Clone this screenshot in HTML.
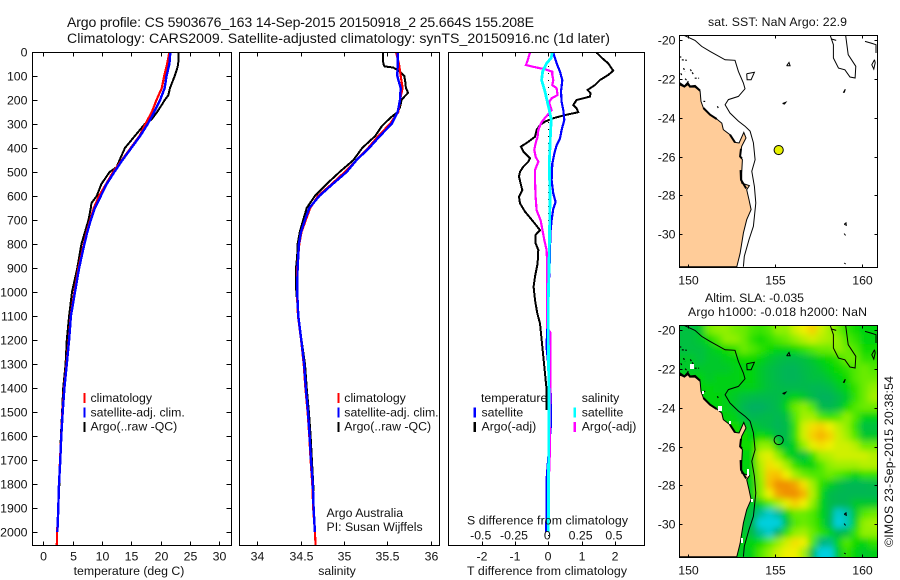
<!DOCTYPE html>
<html lang="en">
<head>
<meta charset="utf-8">
<title>Argo profile</title>
<style>
html,body{margin:0;padding:0;background:#fff;width:900px;height:580px;overflow:hidden}
svg{display:block;font-family:"Liberation Sans",sans-serif;fill:#000}
text{font-size:12.3px;fill:#111}
.t{font-size:14.1px}
.m{text-anchor:middle}
.e{text-anchor:end}
.frame{fill:none;stroke:#000;stroke-width:1;shape-rendering:crispEdges}
.tick{stroke:#000;stroke-width:1;shape-rendering:crispEdges}
.ser{fill:none;stroke-linejoin:miter;shape-rendering:crispEdges}
.iso{fill:none;stroke:#000;stroke-width:1}
</style>
</head>
<body>
<svg id="chart" width="900" height="580" viewBox="0 0 900 580" xmlns="http://www.w3.org/2000/svg">
<defs>
<filter id="smooth" filterUnits="userSpaceOnUse" x="660" y="300" width="240" height="280"><feGaussianBlur stdDeviation="3.2"/></filter>
<clipPath id="map2clip"><rect x="679.5" y="325.5" width="198" height="232"/></clipPath>
<clipPath id="map1clip"><rect x="679.5" y="35.5" width="198" height="232"/></clipPath>
</defs>
<rect width="900" height="580" fill="#fff"/>
<text class="t" x="67" y="27" textLength="467" lengthAdjust="spacing">Argo profile: CS 5903676_163 14-Sep-2015 20150918_2 25.664S 155.208E</text>
<text class="t" x="67" y="43" textLength="543" lengthAdjust="spacing">Climatology: CARS2009. Satellite-adjusted climatology: synTS_20150916.nc (1d later)</text>
<g id="marks"></g>
<text class="m" x="129" y="575">temperature (deg C)</text>
<text class="m" x="337" y="575">salinity</text>
<text class="m" x="547" y="575" textLength="160" lengthAdjust="spacing">T difference from climatology</text>
<text class="m" x="547.5" y="524.5" textLength="161" lengthAdjust="spacing">S difference from climatology</text>
<text x="326.5" y="517">Argo Australia</text>
<text x="326.5" y="531">PI: Susan Wijffels</text>
<text class="m" x="777.5" y="26" textLength="139" lengthAdjust="spacing">sat. SST: NaN Argo: 22.9</text>
<text class="m" x="754.5" y="302" textLength="99" lengthAdjust="spacing">Altim. SLA: -0.035</text>
<text class="m" x="777.5" y="316" textLength="179" lengthAdjust="spacing">Argo h1000: -0.018 h2000: NaN</text>
<text transform="translate(893,547) rotate(-90)" textLength="171" lengthAdjust="spacing">©IMOS 23-Sep-2015 20:38:54</text>
</svg>
<script>
/* ---------- profile data ---------- */
var depthLevels = [0,50,100,150,200,250,300,350,400,450,500,550,600,650,700,750,800,900,1000,1100,1200,1300,1400,1500,1600,1700,1800,1900,2000,2055];
var tempClimatology = [21.5,21.1,20.6,20.2,19.3,18.5,17.4,16.4,14.9,13.4,11.9,10.7,9.5,8.6,8.0,7.4,6.9,6.0,5.3,4.65,4.35,3.95,3.55,3.25,3.05,2.85,2.7,2.55,2.35,2.3];
var tempSatellite = [21.65,21.5,21.0,20.7,19.9,18.9,17.8,16.5,15.0,13.5,12.1,10.8,9.8,8.8,8.1,7.5,7.0,6.1,5.4,4.7,4.4,4.0,3.6,3.3,3.07,2.9,2.67,2.56,2.4];
var tempArgoDepth = [0,50,70,100,150,180,200,220,250,280,300,350,400,450,480,500,550,600,630,650,700,800,900,1000,1100,1200,1300,1400,1500,1600,1700,1830];
var tempArgo = [23.07,23.0,22.8,22.4,21.6,21.3,20.7,20.2,19.4,18.5,17.3,15.6,13.9,13.0,12.5,11.3,9.9,9.1,8.2,8.1,7.7,6.5,5.8,4.9,4.4,4.0,3.8,3.4,3.2,3.0,2.85,2.7];

var salClimatology = [35.6,35.635,35.654,35.677,35.646,35.627,35.53,35.396,35.28,35.146,35.01,34.86,34.7,34.61,34.56,34.51,34.485,34.46,34.457,34.47,34.505,34.535,34.555,34.58,34.6,34.615,34.635,34.645,34.665,34.673];
var salSatellite = [35.62,35.62,35.615,35.654,35.646,35.62,35.55,35.415,35.29,35.146,35.03,34.87,34.715,34.6,34.55,34.504,34.48,34.465,34.46,34.473,34.508,34.54,34.56,34.585,34.604,34.62,34.64,34.65,34.665];
var salArgoDepth = [0,50,60,65,75,85,100,130,150,170,185,200,230,250,270,290,310,350,400,450,500,550,600,650,700,750,800,850,900,950,1000,1100,1200,1300,1400,1500,1600,1700,1830];
var salArgo = [35.45,35.454,35.47,35.57,35.615,35.654,35.696,35.71,35.715,35.74,35.70,35.665,35.646,35.62,35.55,35.49,35.435,35.36,35.21,35.11,34.95,34.8,34.665,34.57,34.53,34.49,34.465,34.46,34.446,34.446,34.45,34.475,34.51,34.55,34.57,34.595,34.615,34.63,34.65];

var diffArgoTempDepth = [3,26,47,78,96,117,138,158,172,186,200,221,235,251,263,276,290,304,325,353,374,394,415,443,457,478,499,519,554,575,603,631,665,707,742,762,797,825,881,936,978,1033,1089,1131,1214,1311,1394,1492];
var diffArgoTemp = [1.45,1.62,1.80,1.95,1.80,1.55,1.40,1.18,1.27,1.25,0.85,0.75,0.85,0.90,0.50,0.15,-0.10,-0.25,-0.35,-0.40,-0.60,-0.82,-0.75,-0.55,-0.60,-0.75,-0.85,-0.88,-0.82,-0.78,-0.88,-0.85,-0.70,-0.45,-0.25,-0.38,-0.38,-0.30,-0.32,-0.40,-0.44,-0.40,-0.33,-0.25,-0.19,-0.12,-0.06,-0.05];
var diffSatTempDepth = [3,26,47,82,117,165,207,242,283,325,360,388,424,465,535,590,625,653,701,757,840,924,1172,1230,1390,1450,1550,1650,1780,2000];
var diffSatTemp = [0.15,0.20,0.25,0.35,0.42,0.38,0.40,0.45,0.48,0.40,0.35,0.25,0.18,0.12,0.10,0.15,0.22,0.15,0.10,0.06,0.05,0.03,-0.04,-0.05,0.06,0.08,0.08,0.02,-0.05,-0.06];
var diffSatSalDepth = [3,26,47,82,117,165,207,242,283,325,394,465,603,742,895,1033,1200,1450,2000];
var diffSatSal = [0.12,0.08,-0.05,-0.17,-0.20,-0.10,-0.03,0.03,0.09,0.07,0.05,0.03,0.05,0.04,0.02,0.0,0.0,0.02,0.0];
var diffArgoSalDepth = [3,26,54,61,72,82,96,117,138,151,179,193,210,242,267,283,297,325,353,381,408,436,457,492,533,603,659,701,783,825,895,1033,1150,1170,1380,1500,1650,1850];
var diffArgoSal = [-0.55,-0.60,-0.67,-0.48,-0.10,0.12,0.12,0.15,0.12,0.25,0.28,0.10,0.02,0.10,-0.05,-0.15,-0.22,-0.30,-0.32,-0.38,-0.42,-0.38,-0.30,-0.40,-0.40,-0.38,-0.35,-0.23,-0.12,-0.05,-0.03,-0.03,-0.03,0.07,0.07,0.05,0.05,0.0];

/* ---------- tick labels ---------- */
var depthTicks = [0,100,200,300,400,500,600,700,800,900,1000,1100,1200,1300,1400,1500,1600,1700,1800,1900,2000];
var tempTicks = [0,5,10,15,20,25,30];
var salTicks = [34,34.5,35,35.5,36];
var diffTempTicks = [-2,-1,0,1,2];
var diffSalTicks = [-0.5,-0.25,0,0.25,0.5];
var lonTicks = [150,155,160];
var latTicks = [-20,-22,-24,-26,-28,-30];

/* ---------- float position ---------- */
var argoLon = 155.208;
var argoLat = -25.664;

/* ---------- sea-level anomaly (cm), rows north to south, columns west to east ---------- */
var slaLon0 = 149.5;
var slaLat0 = -19.72;
var slaCellLon = 0.4925;
var slaCellLat = 0.499;
var slaGrid = [
[-10,-10,-8,6,8,8,6,5,2,1,3,8,8,15,20,24,15,10,5,0,-3,-5,-5],
[-10,-10,-8,-3,3,8,8,5,0,-3,0,3,5,8,12,15,12,10,8,3,0,-5,-5],
[-10,-10,-10,-8,-5,-3,0,5,3,0,-3,-5,-5,-3,0,3,5,5,8,5,3,-3,-3],
[-8,-8,-10,-8,-8,-6,-5,-3,-3,-5,-8,-10,-12,-12,-10,-8,-5,-3,0,5,5,0,0],
[-8,-8,-8,-8,-8,-8,-6,-5,-5,-8,-10,-13,-15,-15,-12,-10,-8,-5,-3,0,3,5,3],
[-5,-5,-5,-8,-6,-6,-6,-5,-5,-8,-10,-13,-15,-15,-13,-10,-10,-8,-5,-3,3,5,5],
[-5,-5,-5,-5,-6,-6,-6,-6,-6,-8,-10,-12,-13,-13,-13,-14,-14,-12,-8,-5,0,5,8],
[-5,-5,-5,-5,-5,-6,-8,-10,-12,-13,-13,-12,-8,-5,-8,-12,-16,-16,-12,-8,0,5,10],
[-5,-5,-5,-5,-5,-6,-8,-14,-17,-17,-15,-12,-5,5,8,3,-12,-14,-10,-3,3,5,5],
[-5,-5,-5,-5,-5,-5,-6,-10,-14,-13,-12,-14,-10,3,10,10,3,0,3,8,3,-5,-5],
[-5,-5,-5,-5,-5,-5,-3,-5,-8,-10,-12,-15,-12,0,15,22,24,20,13,8,0,-10,-10],
[-5,-5,-5,-5,-5,-5,-5,-3,-5,-3,-5,-12,-12,0,15,24,28,24,15,10,3,-8,-8],
[-5,-5,-5,-5,-5,-5,-5,-3,-3,8,8,-5,-10,-5,8,18,22,20,15,15,12,5,5],
[-5,-5,-5,-5,-5,-5,-5,-5,-5,15,18,8,-3,-8,-10,0,10,12,15,15,15,15,12],
[-5,-5,-5,-5,-5,-5,-5,-5,-5,12,22,18,10,0,-5,-5,3,8,10,10,10,12,12],
[-5,-5,-5,-5,-5,-5,-5,-5,-5,10,25,26,20,10,5,3,3,5,3,0,-5,0,0],
[-5,-5,-5,-5,-5,-5,-5,-5,-6,8,26,33,34,30,22,10,0,-6,-10,-14,-14,-14,-12],
[-5,-5,-5,-5,-5,-5,-5,-5,-6,8,20,30,35,36,28,12,-3,-12,-14,-14,-14,-14,-14],
[-5,-5,-5,-5,-5,-5,-5,-5,-8,-5,3,10,18,24,20,8,-5,-12,-14,-14,-8,-8,-8],
[-5,-5,-5,-5,-5,-5,-5,-8,-10,-24,-30,-24,-5,5,5,3,-5,-12,-30,-26,-8,3,5],
[-5,-5,-5,-5,-5,-5,-5,-8,-14,-36,-46,-36,-10,3,5,3,-3,-14,-36,-28,-6,8,10],
[-5,-5,-5,-5,-5,-5,-5,-8,-12,-24,-30,-16,0,8,10,5,0,-5,-14,-10,0,8,8],
[-5,-5,-5,-5,-5,-5,-5,-5,-5,-3,3,8,15,22,20,3,-20,-22,-5,3,-3,-5,0],
[-5,-5,-5,-5,-5,-5,-5,-8,-5,3,8,15,20,20,10,-12,-36,-38,-8,0,-5,-8,-6]
];

/* ---------- map geography (lon, lat) ---------- */
var landOutline = [[149.52,-22.29],[149.81,-22.41],[150,-22.29],[150.13,-22.41],[150.42,-22.41],[150.71,-22.63],[150.76,-23.15],[150.9,-23.49],[151.28,-23.84],[151.66,-24.06],[151.95,-24.27],[152.04,-24.61],[152.42,-24.87],[152.71,-25.27],[152.94,-25.3],[153.21,-24.75],[153.34,-25.04],[153.09,-25.47],[153,-25.99],[153.13,-26.16],[153.09,-26.85],[153.09,-27.37],[153.53,-27.5],[153.38,-27.71],[153.51,-28.23],[153.63,-28.74],[153.38,-29.26],[153.19,-29.95],[153,-31],[152.81,-31.69],[149.52,-31.69]];
var heavyCoast = [
[[149.52,-22.2],[149.81,-22.38],[150,-22.2],[150.13,-22.38],[150.42,-22.35],[150.71,-22.6]],
[[150.9,-23.49],[151.28,-23.84],[151.66,-24.06]],
[[152.42,-24.87],[152.71,-25.27]],
[[153.05,-25.6],[153,-25.99],[153.1,-26.1]],
[[153.03,-26.7],[153.05,-27.2],[153.35,-27.65]]
];
var isobathMain = [[149.75,-19.72],[150.42,-20],[150.8,-20.31],[151.28,-20.57],[152.14,-21],[152.71,-21.03],[152.9,-21.6],[153.19,-22.2],[153.28,-22.5],[152.9,-22.89],[152.33,-23.06],[152.14,-23.32],[152.42,-23.75],[152.9,-24.17],[153.28,-24.43],[153.57,-24.69],[153.76,-25.29],[153.86,-26.16],[153.67,-26.76],[153.82,-27.54],[153.9,-28.4],[153.76,-29.6],[153.51,-30.29],[153.24,-31.15],[153.19,-31.69]];
var isobathLoop = [[153.38,-21.72],[153.82,-21.65],[153.63,-22.03],[153.4,-22.03],[153.38,-21.72]];
var isobathMarionA = [[158.15,-19.72],[158.34,-20.22],[158.34,-20.91],[158.63,-21.43],[159,-21.52],[159.29,-21.89],[159.58,-21.94],[159.62,-21.34],[159.19,-20.74],[159.04,-19.72]];
var isobathEastA = [[160.15,-20.05],[160.5,-20.14],[160.78,-20.22],[160.78,-20.65]];
var isobathEastB = [[160.69,-21],[160.54,-21.26],[160.65,-21.48],[160.73,-21.15],[160.69,-21]];
var reefShapes = [
[[155.66,-21.31],[155.8,-21.14],[155.86,-21.31],[155.66,-21.31]],
[[155.43,-23.26],[155.62,-23.19],[155.54,-23.29],[155.43,-23.26]],
[[158.9,-22.7],[159.02,-22.52],[158.96,-22.7]],
[[158.96,-29.5],[159.06,-29.42],[159.08,-29.55],[158.96,-29.5]],
[[158.95,-29.98],[159.04,-30.07]],
[[158.95,-31.5],[159.05,-31.55]],
[[158.2,-19.92],[158.5,-20]]
];
var coastIslets = [
[[149.52,-20.86],[149.66,-20.86]],[[149.66,-21],[149.95,-21.03]],[[149.76,-21.43],[149.85,-21.6]],
[[150.15,-21.5],[150.34,-21.77]],[[149.85,-21.98],[150.04,-22.15]],[[150.4,-21.95],[150.65,-21.95]],
[[150.9,-23.15],[151,-23.15]],[[151.7,-23.4],[151.75,-23.5]],[[149.6,-21.7],[149.7,-21.85]]
];
var coastGaps = [[690,364,4,5],[718,406,4,5],[729,421,2,3],[702,391,2,3],[747,469,2,7],[751,499,2,3],[741,538,2,5]];

/* ---------- scales ---------- */
function depthY(d){return 52+0.24*d;}
function tempX(v){return 43.3+5.867*v;}
function salX(v){return 257.3+86.67*(v-34);}
function diffX(v){return 548.3+33.3*v;}
function diffSalX(v){return 548.3+133.2*v;}
function lonX(v){return 687.7+17.47*(v-150);}
function latY(v,top){return top+5.4+19.36*(-20-v);}
var slaStops = [[-32,0,208,224],[-25,0,192,160],[-17,0,176,96],[-10,0,192,64],[-4,0,216,0],[3,80,232,0],[8,144,240,0],[14,200,240,0],[20,240,240,0],[26,248,192,0],[33,240,144,0]];
function slaColor(v){
  if(v<=slaStops[0][0]){return 'rgb('+slaStops[0][1]+','+slaStops[0][2]+','+slaStops[0][3]+')';}
  for(var i=1;i<slaStops.length;i++){
    if(v<=slaStops[i][0]){
      var a=slaStops[i-1],b=slaStops[i],t=Math.max(0,(v-a[0])/(b[0]-a[0]));
      return 'rgb('+Math.round(a[1]+t*(b[1]-a[1]))+','+Math.round(a[2]+t*(b[2]-a[2]))+','+Math.round(a[3]+t*(b[3]-a[3]))+')';
    }
  }
  var l=slaStops[slaStops.length-1];
  return 'rgb('+l[1]+','+l[2]+','+l[3]+')';
}

var NS='http://www.w3.org/2000/svg';
var root=document.getElementById('marks');
function mk(tag,attrs,parent){
  var e=document.createElementNS(NS,tag);
  for(var k in attrs){e.setAttribute(k,attrs[k]);}
  (parent||root).appendChild(e);
  return e;
}
function series(depths,values,xs,color,width){
  var pts=[];
  for(var i=0;i<values.length;i++){pts.push(xs(values[i]).toFixed(1)+','+depthY(depths[i]).toFixed(1));}
  return mk('polyline',{points:pts.join(' '),'class':'ser',stroke:color,'stroke-width':width});
}
function geoPath(coords,top,close){
  var s='';
  for(var i=0;i<coords.length;i++){s+=(i?'L':'M')+lonX(coords[i][0]).toFixed(1)+' '+latY(coords[i][1],top).toFixed(1);}
  return s+(close?'Z':'');
}
function axisFrame(x,y,w,h){
  return mk('rect',{x:x,y:y,width:w,height:h,'class':'frame'});
}
function tick(x1,y1,x2,y2){
  return mk('line',{x1:x1,y1:y1,x2:x2,y2:y2,'class':'tick'});
}
function label(x,y,str,cls){
  var t=mk('text',{x:x,y:y});
  if(cls){t.setAttribute('class',cls);}
  t.textContent=str;
  return t;
}
function bar(x,y,color){
  return mk('rect',{x:x,y:y,width:2.4,height:10,fill:color,'shape-rendering':'crispEdges'});
}
var el,i;

/* ---------- temperature panel ---------- */
el=series(tempArgoDepth,tempArgo,tempX,'#000',2);


el=series(depthLevels,tempClimatology,tempX,'#ff0000',2.2);


el=series(depthLevels,tempSatellite,tempX,'#0000ff',2.4);


el=axisFrame(32.5,52.5,199,493);


for(i=0;i<depthTicks.length;i++){
  var dy=Math.round(depthY(depthTicks[i]))+0.5;
  el=tick(32.5,dy,37.5,dy);
  
  
  el=tick(226.5,dy,231.5,dy);
  
  
  el=label(27.5,dy+4,String(depthTicks[i]),'e');
  
  
}
for(i=0;i<tempTicks.length;i++){
  var tx=Math.round(tempX(tempTicks[i]))+0.5;
  el=tick(tx,52.5,tx,56.5);
  
  
  el=tick(tx,541.5,tx,545.5);
  
  
  el=label(tx,560.5,String(tempTicks[i]),'m');
  
  
}

/* ---------- salinity panel ---------- */
el=series(salArgoDepth,salArgo,salX,'#000',2);


el=series(depthLevels,salClimatology,salX,'#ff0000',2.2);


el=series(depthLevels,salSatellite,salX,'#0000ff',2.4);


el=axisFrame(239.5,52.5,200,493);


for(i=0;i<salTicks.length;i++){
  var sx=Math.round(salX(salTicks[i]))+0.5;
  el=tick(sx,52.5,sx,56.5);
  
  
  el=tick(sx,541.5,sx,545.5);
  
  
  el=label(sx,560.5,String(salTicks[i]),'m');
  
  
}

/* ---------- difference panel ---------- */
el=series(diffArgoTempDepth,diffArgoTemp,diffX,'#000',2);


el=mk('line',{x1:diffX(0),y1:depthY(0),x2:diffX(0),y2:depthY(2055),stroke:'#000','stroke-width':1,'stroke-dasharray':'1 6','shape-rendering':'crispEdges'});


el=series(diffSatTempDepth,diffSatTemp,diffX,'#0000ff',2.2);


el=series(diffArgoSalDepth,diffArgoSal,diffX,'#ff00ff',2.2);


el=series(diffSatSalDepth,diffSatSal,diffX,'#00ffff',2.8);


el=axisFrame(448.5,52.5,196,493);


for(i=0;i<diffTempTicks.length;i++){
  var ax=Math.round(diffX(diffTempTicks[i]))+0.5;
  el=tick(ax,52.5,ax,56.5);
  
  
  el=tick(ax,541.5,ax,545.5);
  
  
  el=label(ax-0.5,560.5,String(diffTempTicks[i]),'m');
  
  
}
for(i=0;i<diffSalTicks.length;i++){
  el=label(diffSalX(diffSalTicks[i])-1,539.5,String(diffSalTicks[i]),'m');
  
  
}

/* ---------- legends ---------- */
var legendRows=[402,416.5,430.5];
var legendBars=[393,407.5,422];
el=bar(83.3,legendBars[0],'#ff0000');


el=bar(83.3,legendBars[1],'#0000ff');


el=bar(83.3,legendBars[2],'#000');


el=label(90.5,legendRows[0],'climatology');


el=label(90.5,legendRows[1],'satellite-adj. clim.');


el=label(90.5,legendRows[2],'Argo(..raw -QC)');


el=bar(337.3,legendBars[0],'#ff0000');


el=bar(337.3,legendBars[1],'#0000ff');


el=bar(337.3,legendBars[2],'#000');


el=label(344.3,legendRows[0],'climatology');


el=label(344.3,legendRows[1],'satellite-adj. clim.');


el=label(344.3,legendRows[2],'Argo(..raw -QC)');


el=bar(473.5,legendBars[1],'#0000ff');


el=bar(473.5,legendBars[2],'#000');


el=bar(573.5,legendBars[1],'#00ffff');


el=bar(573.5,legendBars[2],'#ff00ff');


el=label(481,legendRows[0],'temperature');


el=label(481.5,legendRows[1],'satellite');


el=label(481.5,legendRows[2],'Argo(-adj)');


el=label(581.7,legendRows[0],'salinity');


el=label(581.7,legendRows[1],'satellite');


el=label(581.7,legendRows[2],'Argo(-adj)');



/* ---------- maps ---------- */
function drawGeography(top,clipId){
  var g=mk('g',{'clip-path':'url(#'+clipId+')'});
  var p=mk('path',{d:geoPath(landOutline,top,true),fill:'#ffcc99',stroke:'#000','stroke-width':1},g);
  
  
  var j;
  for(j=0;j<heavyCoast.length;j++){
    p=mk('path',{d:geoPath(heavyCoast[j],top,false),fill:'none',stroke:'#000','stroke-width':2},g);
    
    
  }
  for(j=0;j<coastIslets.length;j++){
    p=mk('path',{d:geoPath(coastIslets[j],top,false),fill:'none',stroke:'#000','stroke-width':1.2,'stroke-dasharray':'2 1.5'},g);
    
    
  }
  p=mk('path',{d:geoPath(isobathMain,top,false),'class':'iso'},g);
  
  
  p=mk('path',{d:geoPath(isobathLoop,top,false),'class':'iso'},g);
  
  
  p=mk('path',{d:geoPath(isobathMarionA,top,false),'class':'iso'},g);
  
  
  p=mk('path',{d:geoPath(isobathEastA,top,false),'class':'iso'},g);
  
  
  p=mk('path',{d:geoPath(isobathEastB,top,false),'class':'iso'},g);
  
  
  for(j=0;j<reefShapes.length;j++){
    p=mk('path',{d:geoPath(reefShapes[j],top,false),'class':'iso'},g);
    
    
  }
}
function drawMapAxes(top){
  var f=axisFrame(679.5,top+0.5,198,232);
  
  
  var j,t;
  for(j=0;j<lonTicks.length;j++){
    var lx=Math.round(lonX(lonTicks[j]))+0.5;
    t=tick(lx,top+0.5,lx,top+3.5);
    
    
    t=tick(lx,top+229.5,lx,top+232.5);
    
    
    t=label(lx,top+249.5,String(lonTicks[j]),'m');
    
    
  }
  for(j=0;j<latTicks.length;j++){
    var ly=Math.round(latY(latTicks[j],top))+0.5;
    t=tick(679.5,ly,682.5,ly);
    
    
    t=tick(874.5,ly,877.5,ly);
    
    
    t=label(675.5,ly+4,String(latTicks[j]),'e');
    
    
  }
}

/* SST map */
drawGeography(35,'map1clip');
drawMapAxes(35);
el=mk('circle',{cx:lonX(argoLon),cy:latY(argoLat,35),r:4.6,fill:'#e6f000',stroke:'#000','stroke-width':1});



/* SLA map */
var heatClip=mk('g',{'clip-path':'url(#map2clip)'});


var heat=mk('g',{filter:'url(#smooth)'},heatClip);
for(var r=0;r<slaGrid.length;r++){
  for(var c=0;c<slaGrid[r].length;c++){
    var x0=lonX(slaLon0+c*slaCellLon),x1=lonX(slaLon0+(c+1)*slaCellLon);
    var y0=latY(slaLat0-r*slaCellLat,325),y1=latY(slaLat0-(r+1)*slaCellLat,325);
    if(c===0){x0-=14;}
    if(c===slaGrid[r].length-1){x1+=14;}
    if(r===0){y0-=14;}
    if(r===slaGrid.length-1){y1+=14;}
    var cell=mk('rect',{x:x0.toFixed(1),y:y0.toFixed(1),width:(x1-x0+0.4).toFixed(1),height:(y1-y0+0.4).toFixed(1),fill:slaColor(slaGrid[r][c])},heat);
    
    
  }
}
drawGeography(325,'map2clip');
for(i=0;i<coastGaps.length;i++){
  el=mk('rect',{x:coastGaps[i][0],y:coastGaps[i][1],width:coastGaps[i][2],height:coastGaps[i][3],fill:'#fff'});
  
  
}
drawMapAxes(325);
el=mk('circle',{cx:lonX(argoLon),cy:latY(argoLat,325),r:4.6,fill:'none',stroke:'#000','stroke-width':1});


</script>
</body>
</html>
